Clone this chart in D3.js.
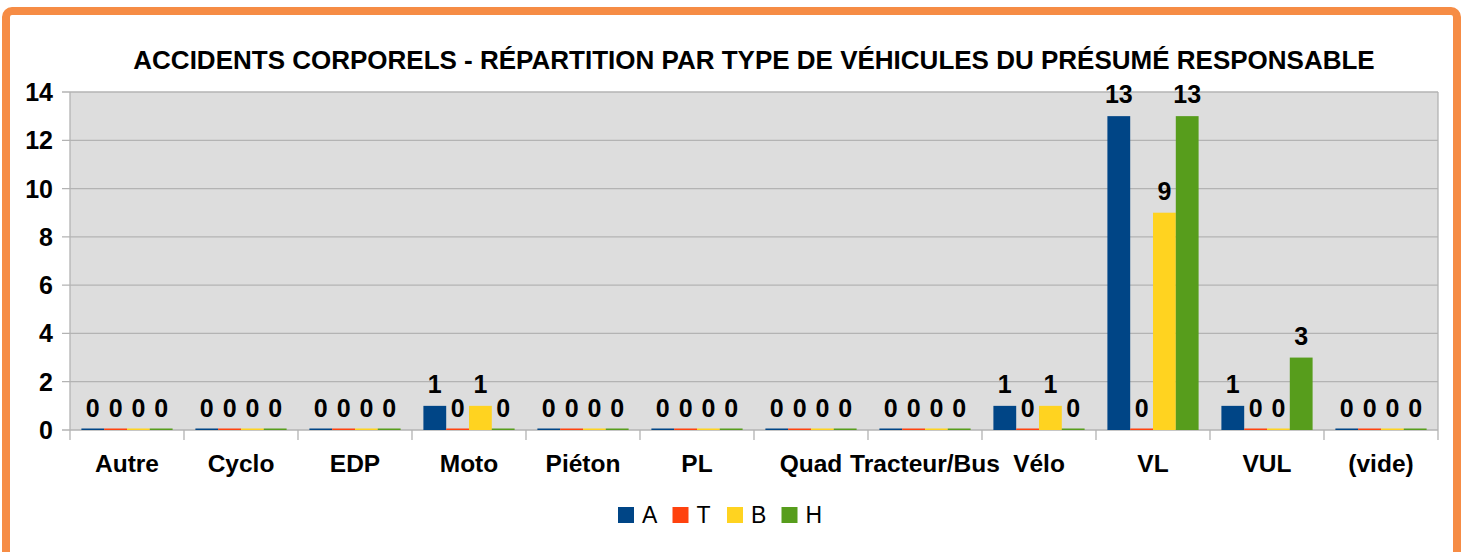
<!DOCTYPE html>
<html>
<head>
<meta charset="utf-8">
<script src="https://cdn.jsdelivr.net/npm/d3@7"></script>
<style>
  body { margin: 0; background: #fff; }
  svg { display: block; font-family: "Liberation Sans", Arial, sans-serif; }
</style>
</head>
<body>
<svg width="1478" height="552"></svg>
<script>
// data
var categories = ["Autre", "Cyclo", "EDP", "Moto", "Piéton", "PL", "Quad", "Tracteur/Bus", "Vélo", "VL", "VUL", "(vide)"];
var seriesNames = ["A", "T", "B", "H"];
var valuesA = [0, 0, 0, 1, 0, 0, 0, 0, 1, 13, 1, 0];
var valuesT = [0, 0, 0, 0, 0, 0, 0, 0, 0, 0, 0, 0];
var valuesB = [0, 0, 0, 1, 0, 0, 0, 0, 1, 9, 0, 0];
var valuesH = [0, 0, 0, 0, 0, 0, 0, 0, 0, 13, 3, 0];
var yTicks = [0, 2, 4, 6, 8, 10, 12, 14];
var colors = ["#004586", "#ff420e", "#ffd320", "#579d1c"];

var series = [valuesA, valuesT, valuesB, valuesH];

var svg = d3.select("svg");

// orange frame
svg.append("rect")
    .attr("x", 6).attr("y", 11)
    .attr("width", 1451).attr("height", 560)
    .attr("rx", 6)
    .attr("fill", "#fff")
    .attr("stroke", "#f68c45")
    .attr("stroke-width", 8);

var plotLeft = 70, plotRight = 1438, plotTop = 92, plotBottom = 430;

var x = d3.scaleBand().domain(categories).range([plotLeft, plotRight]).paddingInner(0).paddingOuter(0);
var x1 = d3.scaleBand().domain(seriesNames).range([0, x.bandwidth()]).paddingInner(0).paddingOuter(0.5);
var y = d3.scaleLinear().domain([0, 14]).range([plotBottom, plotTop]);

// plot background
svg.append("rect")
    .attr("x", plotLeft).attr("y", plotTop)
    .attr("width", plotRight - plotLeft).attr("height", plotBottom - plotTop)
    .attr("fill", "#dddddd");

// gridlines
svg.append("g")
    .selectAll("line")
    .data(yTicks)
    .enter().append("line")
    .attr("x1", plotLeft - 8).attr("x2", plotRight)
    .attr("y1", function(d) { return y(d); })
    .attr("y2", function(d) { return y(d); })
    .attr("stroke", "#b3b3b3")
    .attr("stroke-width", 1.3);

// left and right edges
svg.append("line").attr("x1", plotLeft).attr("x2", plotLeft).attr("y1", plotTop).attr("y2", plotBottom + 10)
    .attr("stroke", "#b3b3b3").attr("stroke-width", 1.3);
svg.append("line").attr("x1", plotRight).attr("x2", plotRight).attr("y1", plotTop).attr("y2", plotBottom + 10)
    .attr("stroke", "#b3b3b3").attr("stroke-width", 1.3);

// category ticks
svg.append("g")
    .selectAll("line")
    .data(categories.slice(1))
    .enter().append("line")
    .attr("x1", function(d) { return x(d); })
    .attr("x2", function(d) { return x(d); })
    .attr("y1", plotBottom).attr("y2", plotBottom + 10)
    .attr("stroke", "#b3b3b3")
    .attr("stroke-width", 1.3);

// y labels
svg.append("g")
    .selectAll("text")
    .data(yTicks)
    .enter().append("text")
    .attr("x", 53)
    .attr("y", function(d) { return y(d); })
    .attr("dy", "0.36em")
    .attr("text-anchor", "end")
    .style("font-size", "25px")
    .style("font-weight", "bold")
    .text(function(d) { return d; });

// x labels
svg.append("g")
    .selectAll("text")
    .data(categories)
    .enter().append("text")
    .attr("x", function(d) { return x(d) + x.bandwidth() / 2; })
    .attr("y", 472)
    .attr("text-anchor", "middle")
    .style("font-size", "24.5px")
    .style("font-weight", "bold")
    .text(function(d) { return d; });

// bars
var groups = svg.append("g")
    .selectAll("g")
    .data(categories)
    .enter().append("g")
    .attr("transform", function(d) { return "translate(" + x(d) + ",0)"; });

groups.selectAll("rect")
    .data(function(d, i) {
        return series.map(function(s, k) { return {name: seriesNames[k], value: s[i], k: k}; });
    })
    .enter().append("rect")
    .attr("x", function(d) { return x1(d.name); })
    .attr("width", x1.bandwidth())
    .attr("y", function(d) { return d.value > 0 ? y(d.value) : plotBottom - 1.5; })
    .attr("height", function(d) { return d.value > 0 ? plotBottom - y(d.value) : 1.5; })
    .attr("fill", function(d) { return colors[d.k]; });

// value labels
groups.selectAll("text")
    .data(function(d, i) {
        return series.map(function(s, k) { return {name: seriesNames[k], value: s[i], k: k}; });
    })
    .enter().append("text")
    .attr("x", function(d) { return x1(d.name) + x1.bandwidth() / 2; })
    .attr("y", function(d) { return y(d.value) - 13; })
    .attr("text-anchor", "middle")
    .style("font-size", "25px")
    .style("font-weight", "bold")
    .text(function(d) { return d.value; });

// title
svg.append("text")
    .attr("x", (plotLeft + plotRight) / 2)
    .attr("y", 69)
    .attr("text-anchor", "middle")
    .style("font-size", "26px")
    .style("font-weight", "bold")
    .text("ACCIDENTS CORPORELS - RÉPARTITION PAR TYPE DE VÉHICULES DU PRÉSUMÉ RESPONSABLE");

// legend
var legend = svg.append("g")
    .selectAll("g")
    .data(seriesNames)
    .enter().append("g")
    .attr("transform", function(d, i) { return "translate(" + (618 + i * 54.5) + ",507)"; });

legend.append("rect")
    .attr("width", 16).attr("height", 16)
    .attr("fill", function(d, i) { return colors[i]; });

legend.append("text")
    .attr("x", 24)
    .attr("y", 8)
    .attr("dy", "0.36em")
    .style("font-size", "23px")
    .text(function(d) { return d; });
</script>
</body>
</html>
